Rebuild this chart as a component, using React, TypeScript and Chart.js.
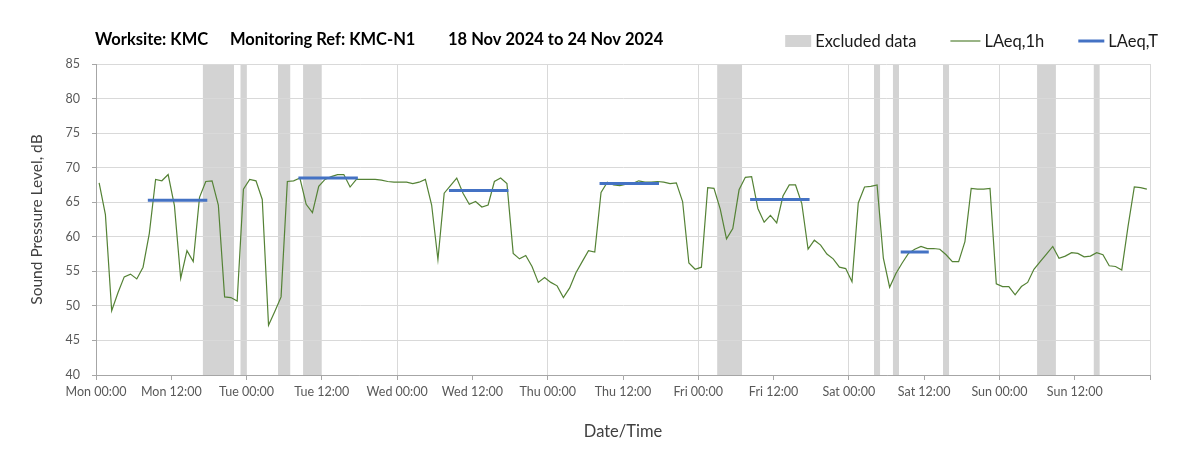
import React, { useEffect, useRef } from "react";
import { Chart, registerables } from "chart.js";

Chart.register(...registerables);

const TITLE_PARTS = ["Worksite: KMC", "Monitoring Ref: KMC-N1", "18 Nov 2024 to 24 Nov 2024"];

const X_TICK_LABELS = [
  "Mon 00:00", "Mon 12:00", "Tue 00:00", "Tue 12:00", "Wed 00:00", "Wed 12:00",
  "Thu 00:00", "Thu 12:00", "Fri 00:00", "Fri 12:00", "Sat 00:00", "Sat 12:00",
  "Sun 00:00", "Sun 12:00", "",
];

const Y_MIN = 40;
const Y_MAX = 85;

// LAeq,1h hourly values (dB), one array per day, 00:00..23:00
const MON = [67.8, 63.2, 49.3, 51.9, 54.2, 54.6, 53.9, 55.6, 60.5, 68.3, 68.1, 69.0, 64.5, 54.0, 58.0, 56.4, 65.7, 68.0, 68.1, 64.6, 51.3, 51.2, 50.7, 66.9];
const TUE = [68.3, 68.1, 65.4, 47.2, 49.2, 51.3, 68.0, 68.1, 68.5, 64.7, 63.5, 67.3, 68.3, 68.7, 69.0, 69.0, 67.2, 68.3, 68.3, 68.3, 68.3, 68.2, 68.0, 67.9];
const WED = [67.9, 67.9, 67.7, 67.9, 68.3, 64.6, 56.7, 66.3, 67.4, 68.5, 66.3, 64.7, 65.1, 64.3, 64.6, 68.0, 68.5, 67.7, 57.6, 56.8, 57.3, 55.7, 53.4, 54.1];
const THU = [53.4, 52.9, 51.2, 52.6, 54.8, 56.4, 58.0, 57.8, 66.4, 67.9, 67.5, 67.4, 67.6, 67.7, 68.1, 67.9, 67.9, 68.0, 67.9, 67.7, 67.8, 65.1, 56.2, 55.3];
const FRI = [55.6, 67.1, 67.0, 64.0, 59.7, 61.2, 66.8, 68.6, 68.7, 64.1, 62.1, 63.1, 62.0, 65.9, 67.5, 67.5, 64.8, 58.2, 59.5, 58.8, 57.5, 56.8, 55.6, 55.4];
const SAT = [53.5, 64.9, 67.2, 67.3, 67.5, 56.9, 52.7, 54.7, 56.2, 57.6, 58.2, 58.6, 58.3, 58.3, 58.2, 57.4, 56.4, 56.4, 59.3, 67.0, 66.9, 66.9, 67.0, 53.2];
const SUN = [52.8, 52.8, 51.6, 52.8, 53.4, 55.3, 56.4, 57.5, 58.6, 56.9, 57.2, 57.7, 57.6, 57.1, 57.2, 57.7, 57.4, 55.8, 55.7, 55.2, 61.5, 67.2, 67.1, 66.9];

// LAeq,T periods (hours from Mon 00:00) and values (dB)
const LAEQ_T_START = [8.5, 32.5, 56.5, 80.5, 104.5, 128.5];
const LAEQ_T_END = [17.5, 41.5, 65.5, 89.5, 113.5, 132.5];
const LAEQ_T_VALUES = [65.3, 68.5, 66.7, 67.7, 65.4, 57.8];

// Excluded data periods (hours from Mon 00:00)
const EXCLUDED_START = [17, 23, 29, 33, 99, 124, 127, 135, 150, 159];
const EXCLUDED_END = [22, 24, 31, 36, 103, 125, 128, 136, 153, 160];

const GREEN = "#548235";
const BLUE = "#4472C4";
const GREY = "#d3d3d3";
const FONT = "Lato, 'Open Sans', sans-serif";

const titleLegendPlugin = {
  id: "titleLegend",
  afterDraw(chart: any) {
    const { ctx, chartArea } = chart;
    ctx.save();
    // title
    ctx.font = `bold 16.5px ${FONT}`;
    ctx.fillStyle = "#000000";
    ctx.textBaseline = "middle";
    const offsets = [0, 135, 353];
    TITLE_PARTS.forEach((t, i) => ctx.fillText(t, chartArea.left - 1 + offsets[i], 40));

    // legend (right aligned)
    ctx.font = `16.5px ${FONT}`;
    const ds = chart.data.datasets;
    const items = [ds[2], ds[1], ds[0]]; // Excluded, LAeq,1h, LAeq,T
    let x = chartArea.right + 8;
    const cy = 41;
    for (let i = items.length - 1; i >= 0; i--) {
      const it = items[i];
      const tw = ctx.measureText(it.label).width;
      x -= tw;
      ctx.fillStyle = "#1a1a1a";
      ctx.fillText(it.label, x, cy + 1);
      x -= 4;
      if (it.fill) {
        const w = 26;
        x -= w;
        ctx.fillStyle = it.backgroundColor;
        ctx.fillRect(x, cy - 6, w, 12);
      } else {
        const w = it.borderWidth > 2 ? 26 : 30;
        x -= w;
        ctx.strokeStyle = it.borderColor;
        ctx.lineWidth = it.borderWidth;
        ctx.beginPath();
        ctx.moveTo(x, cy);
        ctx.lineTo(x + w, cy);
        ctx.stroke();
      }
      x -= 34;
    }
    ctx.restore();
  },
};

export default function App() {
  const ref = useRef<HTMLCanvasElement | null>(null);

  useEffect(() => {
    if (!ref.current) return;
    const hourly = [...MON, ...TUE, ...WED, ...THU, ...FRI, ...SAT, ...SUN];
    const lineData = hourly.map((v, i) => ({ x: i + 0.5, y: v }));

    const tData: any[] = [];
    LAEQ_T_VALUES.forEach((v, i) => {
      tData.push({ x: LAEQ_T_START[i], y: v });
      tData.push({ x: LAEQ_T_END[i], y: v });
      tData.push({ x: LAEQ_T_END[i], y: null });
    });

    const exData: any[] = [];
    EXCLUDED_START.forEach((s, i) => {
      exData.push({ x: s, y: Y_MAX });
      exData.push({ x: EXCLUDED_END[i], y: Y_MAX });
      exData.push({ x: EXCLUDED_END[i], y: null });
    });

    const chart = new Chart(ref.current, {
      type: "line",
      data: {
        datasets: [
          {
            label: "LAeq,T",
            data: tData,
            borderColor: BLUE,
            backgroundColor: BLUE,
            borderWidth: 3,
            borderCapStyle: "square",
            pointRadius: 0,
            spanGaps: false,
            fill: false,
            order: 0,
          },
          {
            label: "LAeq,1h",
            data: lineData,
            borderColor: GREEN,
            backgroundColor: GREEN,
            borderWidth: 1.2,
            pointRadius: 0,
            tension: 0,
            fill: false,
            order: 1,
          },
          {
            label: "Excluded data",
            data: exData,
            borderColor: "rgba(0,0,0,0)",
            backgroundColor: GREY,
            borderWidth: 0,
            pointRadius: 0,
            spanGaps: false,
            fill: "start",
            order: 2,
          },
        ] as any,
      },
      options: {
        animation: false,
        responsive: true,
        maintainAspectRatio: false,
        layout: { padding: { top: 64, right: 53, left: 0, bottom: 0 } },
        plugins: {
          legend: { display: false },
          tooltip: { enabled: false },
          filler: { drawTime: "beforeDraw" } as any,
        },
        scales: {
          x: {
            type: "linear",
            min: 0,
            max: 168,
            afterFit: (s: any) => { s.height = 84; },
            ticks: {
              stepSize: 12,
              autoSkip: false,
              maxRotation: 0,
              padding: 4,
              color: "#595959",
              font: { family: FONT, size: 12.5 },
              callback: (_v: any, i: number) => X_TICK_LABELS[i] ?? "",
            },
            grid: {
              color: (c: any) => (c.tick && c.tick.value % 24 === 0 ? "#d9d9d9" : "rgba(0,0,0,0)"),
              tickColor: "#a6a6a6",
              tickLength: 5,
              lineWidth: 1,
            },
            border: { color: "#a6a6a6" },
            title: {
              display: true,
              text: "Date/Time",
              color: "#404040",
              font: { family: FONT, size: 16.5 },
              padding: { top: 0, bottom: 17 },
            },
          },
          y: {
            min: Y_MIN,
            max: Y_MAX,
            afterFit: (s: any) => { s.width = 96; },
            ticks: {
              stepSize: 5,
              padding: 12,
              color: "#595959",
              font: { family: FONT, size: 12.5 },
            },
            grid: { color: "#d9d9d9", tickColor: "#a6a6a6", tickLength: 4 },
            border: { color: "#a6a6a6" },
            title: {
              display: true,
              text: "Sound Pressure Level, dB",
              color: "#404040",
              font: { family: FONT, size: 15.5 },
              padding: { top: 28, bottom: 0 },
            },
          },
        },
      },
      plugins: [titleLegendPlugin],
    });
    return () => chart.destroy();
  }, []);

  return (
    <div style={{ position: "fixed", left: 0, top: 0, width: 1203, height: 459, background: "#fff" }}>
      <canvas ref={ref} />
    </div>
  );
}
